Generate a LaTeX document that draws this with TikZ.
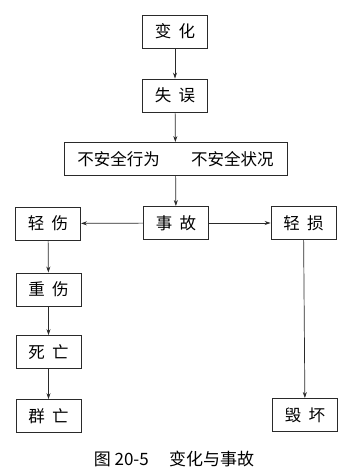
\documentclass[tikz,border=0pt]{standalone}
\usepackage{fontspec}
\setmainfont{Noto Sans CJK SC}
\usepackage{tikz}
\usetikzlibrary{arrows.meta,positioning}
\definecolor{inkgray}{HTML}{2A2A2A}
\newcommand{\csp}{\hspace{0.45em}}

\begin{document}
\begin{tikzpicture}[
  x=1pt,y=-1pt,
  box/.style={draw=inkgray,line width=0.9pt,minimum width=65pt,minimum height=33pt,inner sep=0pt,font=\fontsize{16.5}{19}\selectfont},
  arr/.style={-{Stealth[length=6pt,width=4pt]},line width=0.7pt,inkgray},
  figcap/.style={font=\fontsize{17}{20}\selectfont,inner sep=1pt}
]
\useasboundingbox (0,0) rectangle (350,471);
\foreach \x/\y/\n/\t in {175/31.5/change/变\csp 化,175/95.5/err/失\csp 误,176/223/acc/事\csp 故,48/223.5/light/轻\csp 伤,303.5/223/lossl/轻\csp 损,48.5/289.5/heavy/重\csp 伤,48.5/352/death/死\csp 亡,48.5/416/group/群\csp 亡,305/415/ruin/毁\csp 坏}{\node[box] (\n) at (\x,\y) {\t};}
\node[box,minimum width=223pt] (unsafe) at (175.5,159) {不安全行为\hspace{1.9em}不安全状况};
\foreach \a/\b in {change/err,err/unsafe,unsafe/acc,acc/light,acc/lossl,light/heavy,heavy/death,death/group,lossl/ruin}{\draw[arr] (\a)--(\b);}
\node[figcap] (caption) at (174,459) {图 20-5\hspace{1.2em}变化与事故};
\end{tikzpicture}
\end{document}
